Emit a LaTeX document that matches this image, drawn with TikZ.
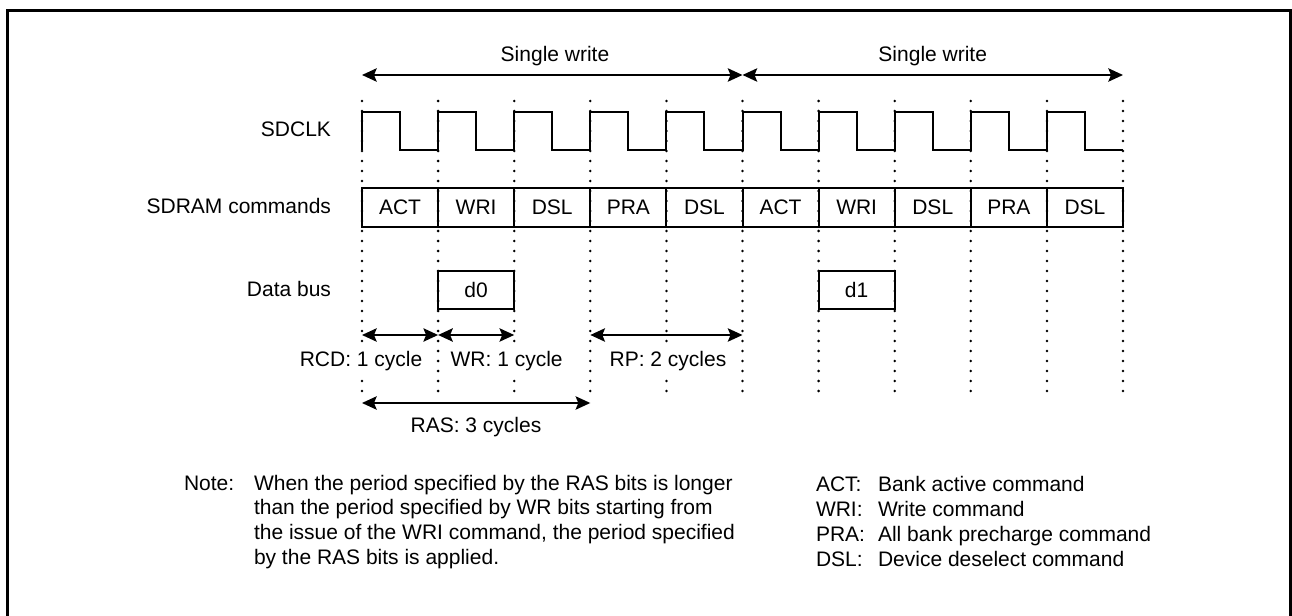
\documentclass[tikz,border=0pt]{standalone}
\usepackage{fontspec}
\setmainfont{Liberation Sans}
\usetikzlibrary{arrows.meta}

\begin{document}
\begin{tikzpicture}[x=0.75pt,y=-0.75pt,line width=1.5pt,
  font=\fontsize{15.75}{18.9}\selectfont,
  lbl/.style={inner sep=0pt,anchor=base},
  dimlbl/.style={lbl,fill=white,inner xsep=2pt,inner ysep=3pt},
  gridline/.style={line width=2.1pt,line cap=round,dash pattern=on 0pt off 7.5pt},
  span/.style={{Stealth[length=11pt,width=10pt,inset=2pt]}-{Stealth[length=11pt,width=10pt,inset=2pt]},line width=1.5pt},
  cmdbox/.style={draw,minimum width=57.075pt,minimum height=29.25pt,inner sep=0pt},
  databox/.style={draw,minimum width=57.075pt,minimum height=28.5pt,inner sep=0pt}]
\useasboundingbox (0,0) rectangle (1292,616);
\draw[line width=2.25pt] (7.5,10.5) rectangle (1290.5,660);

\foreach \k in {0,...,10}{
  \coordinate (g\k) at (362+76.1*\k,101);
  \coordinate (b\k) at (362+76.1*\k,401);
  \coordinate (sw\k) at (362+76.1*\k,75);
  \coordinate (ms\k) at (362+76.1*\k,335);
  \coordinate (ras\k) at (362+76.1*\k,403);
  \draw[gridline] (g\k) -- (b\k);
}

\draw (362,150) \foreach \k in {0,...,9}{ -- ++(0,-38) -- ++(38.05,0) -- ++(0,38) -- ++(38.05,0)};

\foreach \c [count=\i from 0] in {ACT,WRI,DSL,PRA,DSL,ACT,WRI,DSL,PRA,DSL}
  \node[cmdbox] (cmd\i) at (400.05+76.1*\i,207.5) {\c};
\node[databox] (d0) at (476.15,290) {d0};
\node[databox] (d1) at (856.65,290) {d1};

\node[lbl,anchor=base east] (clk) at (332,137) {SDCLK};
\node[lbl,anchor=base east] (cmds) at (332,214) {SDRAM commands};
\node[lbl,anchor=base east] (bus) at (332,297) {Data bus};

\draw[span] (sw0) -- (sw5);
\draw[span] (sw5) -- (sw10);
\node[lbl] (write1) at (555,62) {Single write};
\node[lbl] (write2) at (932.75,62) {Single write};

\draw[span] (ms0) -- (ms1);
\draw[span] (ms1) -- (ms2);
\draw[span] (ms3) -- (ms5);
\draw[span] (ras0) -- (ras3);
\node[dimlbl,anchor=base east] (rcd) at (426,367) {RCD: 1 cycle};
\node[dimlbl,anchor=base west] (wr) at (447,367) {WR: 1 cycle};
\node[dimlbl] (rp) at (668,367) {RP: 2 cycles};
\node[dimlbl] (rasl) at (476,432) {RAS: 3 cycles};

\node[lbl,anchor=base west] (note) at (183,490) {Note:};
\foreach \t [count=\i from 0] in {{When the period specified by the RAS bits is longer},{than the period specified by WR bits starting from},{the issue of the WRI command, the period specified},{by the RAS bits is applied.}}
  \node[lbl,anchor=base west] (line\i) at (253,490+24.8*\i) {\t};

\foreach \key/\what [count=\i from 0] in {ACT/Bank active command,WRI/Write command,PRA/All bank precharge command,DSL/Device deselect command}{
  \node[lbl,anchor=base west] (key\i) at (815,491.5+25*\i) {\key:};
  \node[lbl,anchor=base west] (what\i) at (877,491.5+25*\i) {\what};
}
\end{tikzpicture}
\end{document}
